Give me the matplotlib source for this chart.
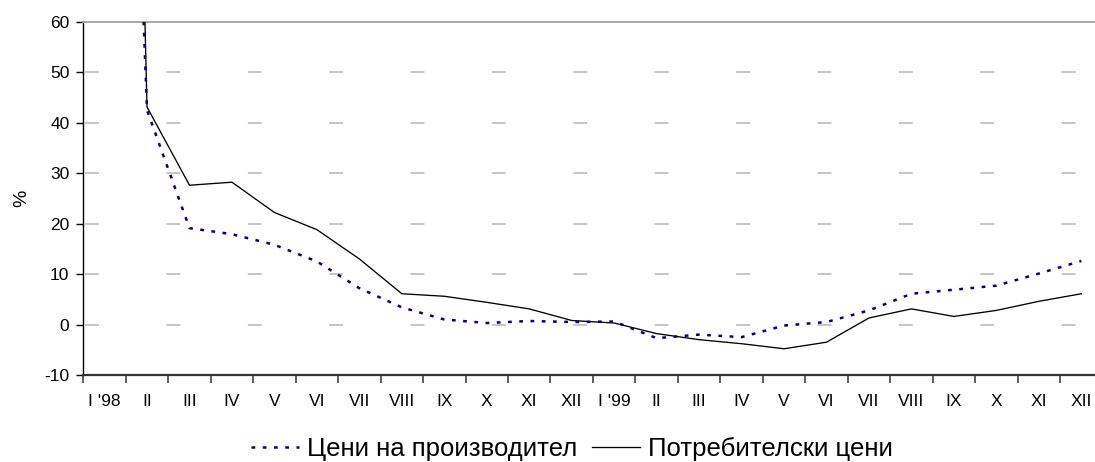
import matplotlib
matplotlib.use("Agg")
import matplotlib.pyplot as plt
from matplotlib.ticker import FixedLocator, NullFormatter, FixedFormatter
import numpy as np

plt.rcParams['font.family'] = ['Liberation Sans', 'DejaVu Sans']
plt.rcParams['axes.unicode_minus'] = False

months = ["I '98", "II", "III", "IV", "V", "VI", "VII", "VIII", "IX", "X", "XI", "XII",
          "I '99", "II", "III", "IV", "V", "VI", "VII", "VIII", "IX", "X", "XI", "XII"]

producer = [262, 42.5, 19.1, 17.9, 15.8, 12.5, 7.2, 3.4, 1.0, 0.3, 0.7, 0.5,
            0.6, -2.7, -2.0, -2.5, -0.2, 0.5, 2.8, 6.1, 6.9, 7.7, 10.1, 12.6]
consumer = [395, 43.1, 27.6, 28.2, 22.2, 18.8, 13.0, 6.1, 5.6, 4.4, 3.1, 0.8,
            0.3, -1.8, -3.0, -3.8, -4.8, -3.5, 1.3, 3.1, 1.6, 2.8, 4.6, 6.1]

label_producer = "Цени на производител"
label_consumer = "Потребителски цени"

W, H = 1095, 462
fig = plt.figure(figsize=(W / 100, H / 100), dpi=100)
left = 83.3 / W
right_px = 83.3 + 24 * 42.47
ax = fig.add_axes([left, (H - 375) / H, (right_px - 83.3) / W, (375 - 21.7) / H])

x = np.arange(len(months)) + 0.5

# gridlines
for yv in range(0, 60, 10):
    ax.plot([0.04, 24], [yv, yv], color='#c0c0c0', lw=1.3, zorder=1,
            dashes=(10.0 / 1.3, 48.6 / 1.3), solid_capstyle='butt', dash_capstyle='butt')

ax.plot(x, consumer, color='black', lw=0.95, zorder=3, label=label_consumer)
ax.plot(x, producer, color='#000080', lw=1.8, zorder=4, dashes=(1.5, 3.0),
        label=label_producer)

ax.set_xlim(0, 24)
ax.set_ylim(-10, 60)

ax.xaxis.set_major_locator(FixedLocator(np.arange(0, 25)))
ax.xaxis.set_major_formatter(NullFormatter())
ax.xaxis.set_minor_locator(FixedLocator(x))
ax.xaxis.set_minor_formatter(FixedFormatter(months))
ax.tick_params(axis='x', which='major', direction='out', length=5.5, width=1.1, color='#333333')
ax.tick_params(axis='x', which='minor', length=0, pad=14, labelsize=12.5)

ax.set_yticks(range(-10, 61, 10))
ax.tick_params(axis='y', direction='out', length=5, width=1.0, pad=5, labelsize=12.5)

for s in ['top', 'right']:
    ax.spines[s].set_color('#999999')
    ax.spines[s].set_linewidth(1.2)
ax.spines['left'].set_color('black')
ax.spines['left'].set_linewidth(1.0)
ax.spines['bottom'].set_color('#333333')
ax.spines['bottom'].set_linewidth(1.6)

ax.set_ylabel('%', fontsize=14)
ax.yaxis.set_label_coords(-(83.3 - 30) / (right_px - 83.3), 0.5)

handles, labels = ax.get_legend_handles_labels()
order = [1, 0]
fig.legend([handles[i] for i in order], [labels[i] for i in order],
           loc='center', bbox_to_anchor=(572 / W, (H - 449) / H), ncol=2,
           frameon=False, fontsize=18.5, handlelength=1.85, handletextpad=0.3,
           columnspacing=0.6, borderpad=0, borderaxespad=0)

fig.savefig('out.png', dpi=100)
